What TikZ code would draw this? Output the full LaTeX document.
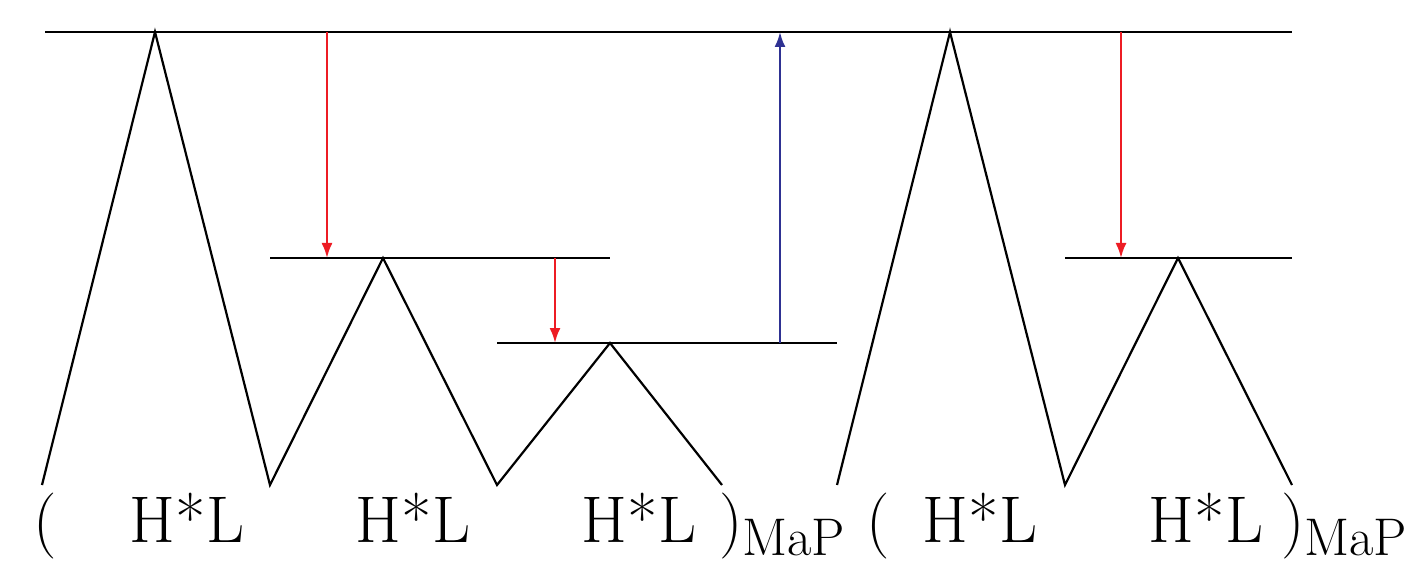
\documentclass[tikz,border=0pt]{standalone}
\usetikzlibrary{arrows.meta}
\definecolor{arrred}{RGB}{237,28,36}
\definecolor{arrblue}{RGB}{46,49,146}
\newcommand{\mapsub}{\raisebox{-13pt}{\fontsize{53}{56}\selectfont MaP}}
\begin{document}
\begin{tikzpicture}[x=1pt,y=-1pt,line width=2.2pt,
  lbl/.style={inner sep=0pt,anchor=base,font=\fontsize{66}{70}\selectfont},
  redarr/.style={draw=arrred,line width=2.2pt,-{Latex[length=15pt,width=11pt]}},
  bluearr/.style={draw=arrblue,line width=2.2pt,-{Latex[length=15pt,width=11pt]}}]
\useasboundingbox (0,0) rectangle (1408,561);
% levels
\coordinate (t0) at (45,32);   \coordinate (t1) at (1292,32);
\coordinate (ma) at (270,258); \coordinate (mb) at (610,258);
\coordinate (la) at (497,343); \coordinate (lb) at (837,343);
\coordinate (na) at (1065,258);\coordinate (nb) at (1292,258);
% zigzag points
\coordinate (v0) at (42,485);  \coordinate (p1) at (155,32);
\coordinate (v1) at (270,485); \coordinate (p2) at (383,258);
\coordinate (v2) at (497,485); \coordinate (p3) at (610,343);
\coordinate (v3) at (722,485);
\coordinate (v4) at (837,485); \coordinate (p4) at (950,32);
\coordinate (v5) at (1065,485);\coordinate (p5) at (1178,258);
\coordinate (v6) at (1292,485);
% arrow ends
\coordinate (a1s) at (327,32);  \coordinate (a1e) at (327,258);
\coordinate (a2s) at (555,258); \coordinate (a2e) at (555,343);
\coordinate (a3s) at (780,343); \coordinate (a3e) at (780,32);
\coordinate (a4s) at (1121,32); \coordinate (a4e) at (1121,258);

\draw (t0) -- (t1);
\draw (ma) -- (mb);
\draw (la) -- (lb);
\draw (na) -- (nb);
\draw (v0) -- (p1) -- (v1) -- (p2) -- (v2) -- (p3) -- (v3);
\draw (v4) -- (p4) -- (v5) -- (p5) -- (v6);

\draw[redarr] (a1s) -- (a1e);
\draw[redarr] (a2s) -- (a2e);
\draw[bluearr] (a3s) -- (a3e);
\draw[redarr] (a4s) -- (a4e);

\node[lbl] (o1) at (45,542) {(};
\node[lbl] (h1) at (187,542) {H*L};
\node[lbl] (h2) at (413,542) {H*L};
\node[lbl] (h3) at (639,542) {H*L};
\node[lbl,anchor=base west] (c1) at (718,542) {)\mapsub};
\node[lbl] (o2) at (878,542) {(};
\node[lbl] (h4) at (980,542) {H*L};
\node[lbl] (h5) at (1206,542) {H*L};
\node[lbl,anchor=base west] (c2) at (1280,542) {)\mapsub};
\end{tikzpicture}
\end{document}
